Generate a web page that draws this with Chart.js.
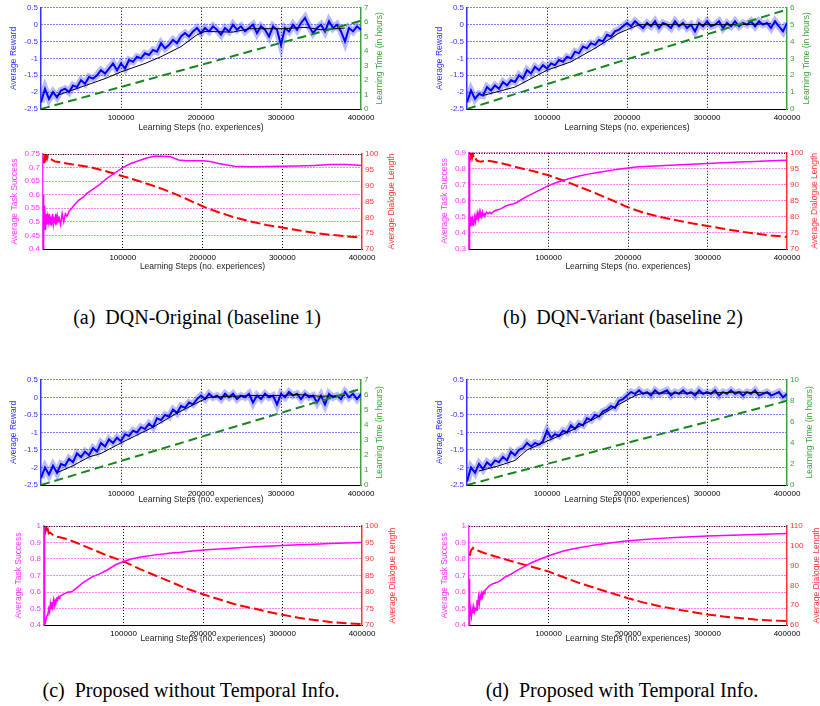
<!DOCTYPE html>
<html>
<head>
<meta charset="utf-8">
<script src="https://cdn.jsdelivr.net/npm/chart.js@4.4.0/dist/chart.umd.min.js"></script>
<style>
  body { margin: 0; width: 820px; height: 706px; background: #fff; position: relative; overflow: hidden; }
  canvas { position: absolute; }
  .cap { position: absolute; transform: translate(-50%, -50%); white-space: pre;
         font-family: "Liberation Serif", "Times New Roman", serif; font-size: 20px; color: #000; }
</style>
</head>
<body>
<div class="cap" style="left:197px; top:317px">(a)  DQN-Original (baseline 1)</div>
<div class="cap" style="left:623px; top:317px">(b)  DQN-Variant (baseline 2)</div>
<div class="cap" style="left:191px; top:690px">(c)  Proposed without Temporal Info.</div>
<div class="cap" style="left:622px; top:690px">(d)  Proposed with Temporal Info.</div>
<script>
// reward is sampled every 5000 learning steps, 0..400000
const REWARD_STEP = 5000;

const rewardA = [-2.3, -1.9, -2.2, -2.0, -2.15, -1.95, -1.9, -2.0, -1.8, -1.85,
  -1.65, -1.75, -1.55, -1.6, -1.5, -1.35, -1.45, -1.3, -1.15, -1.35,
  -1.15, -1.3, -1.05, -1.1, -0.95, -1.0, -0.85, -0.9, -0.75, -0.8,
  -0.55, -0.7, -0.6, -0.45, -0.55, -0.35, -0.25, -0.35, -0.2, -0.1,
  -0.25, -0.1, -0.2, -0.05, -0.15, -0.3, -0.1, -0.2, 0.0, -0.15,
  -0.05, -0.2, -0.1, 0.0, -0.25, -0.05, -0.15, -0.35, -0.05, -0.15,
  -0.6, -0.1, -0.2, 0.0, -0.15, 0.05, 0.2, -0.05, -0.25, -0.1,
  0.0, -0.2, 0.1, -0.1, 0.0, -0.2, -0.5, -0.1, -0.2, -0.05,
  -0.15];
const rewardB = [-2.3, -1.95, -2.2, -2.05, -2.1, -1.85, -1.95, -1.8, -1.9, -1.7,
  -1.8, -1.65, -1.7, -1.5, -1.6, -1.35, -1.45, -1.25, -1.35, -1.2,
  -1.3, -1.15, -1.2, -1.05, -1.1, -0.95, -1.0, -0.8, -0.85, -0.65,
  -0.7, -0.55, -0.6, -0.45, -0.5, -0.3, -0.35, -0.2, -0.15, -0.05,
  0.05, -0.05, 0.1, 0.0, -0.1, 0.05, -0.05, 0.1, -0.1, 0.05,
  0.0, -0.1, 0.1, -0.05, 0.05, -0.1, 0.0, -0.2, 0.05, -0.05,
  0.1, -0.05, 0.0, 0.1, -0.1, 0.05, -0.05, 0.1, -0.05, 0.05,
  0.0, 0.1, -0.05, 0.1, 0.0, 0.05, -0.1, 0.1, -0.05, -0.2,
  0.05];
const rewardC = [-2.3, -2.0, -2.2, -1.95, -2.15, -1.9, -1.95, -1.75, -1.85, -1.6,
  -1.7, -1.55, -1.65, -1.45, -1.55, -1.3, -1.4, -1.2, -1.3, -1.15,
  -1.25, -1.05, -1.1, -0.95, -1.0, -0.85, -0.9, -0.75, -0.85, -0.6,
  -0.65, -0.5, -0.55, -0.35, -0.45, -0.25, -0.3, -0.15, -0.2, -0.05,
  0.05, -0.05, 0.1, 0.0, 0.05, -0.05, 0.1, 0.0, 0.1, -0.05,
  0.05, 0.0, 0.1, -0.15, 0.05, -0.05, 0.1, 0.0, 0.05, -0.2,
  0.1, 0.0, 0.15, 0.05, 0.1, -0.05, 0.1, 0.0, 0.05, -0.15,
  0.05, -0.2, 0.1, 0.0, 0.05, -0.05, 0.15, 0.0, 0.1, -0.05,
  0.1];
const rewardD = [-2.4, -2.0, -2.15, -1.9, -2.05, -1.85, -1.95, -1.8, -1.85, -1.7,
  -1.8, -1.55, -1.65, -1.5, -1.45, -1.3, -1.4, -1.3, -1.35, -1.25,
  -0.95, -1.15, -1.05, -1.1, -0.95, -1.0, -0.8, -0.9, -0.75, -0.8,
  -0.6, -0.65, -0.5, -0.55, -0.4, -0.35, -0.25, -0.3, -0.1, -0.05,
  0.05, 0.15, 0.1, 0.2, 0.1, 0.15, 0.05, 0.2, 0.1, 0.15,
  0.2, 0.05, 0.15, 0.1, 0.2, 0.1, 0.15, 0.05, 0.2, 0.1,
  0.15, 0.1, 0.2, 0.05, 0.15, 0.1, 0.2, 0.1, 0.15, 0.05,
  0.15, 0.1, 0.2, 0.05, 0.1, 0.15, 0.05, 0.1, 0.15, 0.0,
  0.1];

// smoothed (moving average) reward, black line
const smoothStepsA = [20000, 50000, 80000, 100000, 130000, 150000, 175000, 195000, 205000, 240000, 260000, 300000, 330000, 350000, 380000];
const smoothA = [-2.1, -1.85, -1.6, -1.4, -1.15, -0.95, -0.65, -0.3, -0.2, -0.22, -0.12, -0.12, -0.08, -0.15, -0.1];
const smoothStepsB = [20000, 60000, 80000, 100000, 130000, 160000, 190000, 215000, 250000, 300000, 340000, 380000];
const smoothB = [-2.1, -1.85, -1.6, -1.35, -1.1, -0.7, -0.25, 0.0, 0.0, 0.0, 0.0, 0.03];
const smoothStepsC = [20000, 40000, 60000, 75000, 100000, 140000, 170000, 200000, 210000, 260000, 300000, 320000, 350000, 380000];
const smoothC = [-2.15, -1.95, -1.7, -1.6, -1.3, -0.85, -0.45, -0.1, 0.0, 0.05, 0.05, 0.08, 0.03, 0.05];
const smoothStepsD = [15000, 40000, 60000, 75000, 100000, 130000, 160000, 190000, 210000, 220000, 300000, 340000, 380000];
const smoothD = [-2.1, -1.95, -1.8, -1.5, -1.25, -0.95, -0.6, -0.2, 0.05, 0.12, 0.12, 0.15, 0.12];

// learning time in hours (green dashed)
const timeSteps = [0, 400000];
const timeA = [0, 6.1];
const timeB = [0, 5.9];
const timeC = [0, 6.4];
const timeD = [0, 8.0];

const successSteps = [0, 500, 1000, 2000, 3000, 4000, 5000, 6000, 7000, 8000,
  9000, 10000, 11000, 12000, 13000, 14000, 15000, 16000, 17000, 18000,
  19000, 20000, 22000, 24000, 26000, 28000, 30000, 33000, 36000, 40000,
  45000, 50000, 55000, 60000, 70000, 80000, 90000, 100000, 110000, 120000,
  130000, 140000, 150000, 160000, 170000, 180000, 190000, 200000, 210000, 220000,
  240000, 260000, 280000, 300000, 320000, 340000, 360000, 380000, 400000];
const successA = [0.40, 0.60, 0.45, 0.56, 0.47, 0.53, 0.49, 0.52, 0.50, 0.53,
  0.49, 0.52, 0.50, 0.53, 0.49, 0.51, 0.50, 0.53, 0.49, 0.52,
  0.50, 0.52, 0.49, 0.53, 0.50, 0.53, 0.52, 0.54, 0.55, 0.565,
  0.58, 0.59, 0.605, 0.615, 0.635, 0.66, 0.68, 0.70, 0.715, 0.725,
  0.735, 0.742, 0.742, 0.74, 0.728, 0.725, 0.725, 0.725, 0.722, 0.715,
  0.705, 0.703, 0.704, 0.705, 0.706, 0.708, 0.711, 0.711, 0.708];
const successB = [0.30, 0.88, 0.50, 0.44, 0.50, 0.45, 0.48, 0.46, 0.50, 0.47,
  0.51, 0.48, 0.52, 0.49, 0.53, 0.50, 0.52, 0.50, 0.53, 0.51,
  0.52, 0.51, 0.53, 0.52, 0.53, 0.52, 0.53, 0.54, 0.545, 0.55,
  0.565, 0.575, 0.58, 0.59, 0.62, 0.645, 0.67, 0.695, 0.715, 0.73,
  0.745, 0.757, 0.767, 0.776, 0.784, 0.792, 0.799, 0.805, 0.812, 0.815,
  0.82, 0.824, 0.829, 0.834, 0.838, 0.842, 0.846, 0.85, 0.853];
const successC = [1.0, 0.7, 0.40, 0.42, 0.44, 0.46, 0.47, 0.50, 0.48, 0.53,
  0.50, 0.54, 0.51, 0.55, 0.52, 0.55, 0.54, 0.56, 0.55, 0.57,
  0.56, 0.575, 0.58, 0.585, 0.59, 0.595, 0.60, 0.60, 0.605, 0.62,
  0.64, 0.66, 0.675, 0.69, 0.71, 0.735, 0.765, 0.785, 0.80, 0.81,
  0.818, 0.825, 0.83, 0.836, 0.84, 0.845, 0.85, 0.855, 0.858, 0.861,
  0.867, 0.872, 0.877, 0.882, 0.886, 0.89, 0.894, 0.897, 0.90];
const successD = [0.40, 0.68, 0.55, 0.48, 0.45, 0.50, 0.47, 0.51, 0.48, 0.50,
  0.49, 0.55, 0.52, 0.57, 0.53, 0.58, 0.55, 0.59, 0.57, 0.60,
  0.59, 0.61, 0.62, 0.63, 0.64, 0.645, 0.65, 0.655, 0.66, 0.67,
  0.69, 0.70, 0.715, 0.73, 0.755, 0.78, 0.80, 0.82, 0.835, 0.85,
  0.86, 0.87, 0.878, 0.886, 0.893, 0.899, 0.905, 0.91, 0.914, 0.918,
  0.925, 0.93, 0.935, 0.94, 0.943, 0.946, 0.949, 0.952, 0.955];

const lengthSteps = [1000, 2000, 3000, 4000, 5000, 6000, 8000, 10000, 15000, 20000,
  30000, 40000, 60000, 80000, 100000, 120000, 140000, 160000, 180000, 200000,
  220000, 240000, 260000, 280000, 300000, 320000, 340000, 360000, 380000, 400000];
const lengthA = [97, 100, 98.5, 99.5, 98.5, 99.3, 98.6, 98.4, 97.6, 97.5,
  97, 96.6, 95.8, 94.5, 93, 91.5, 89.8, 88, 85.8, 83.5,
  81.6, 80, 78.7, 77.6, 76.8, 75.9, 75.1, 74.5, 74, 73.6];
const lengthB = [101, 99, 100.5, 98.5, 99.5, 98, 98.3, 97.5, 97.2, 97.6,
  97.3, 96.8, 95.5, 94.3, 93, 91.2, 89.3, 87.3, 85.2, 83,
  81.3, 80, 79, 78, 77.2, 76.3, 75.5, 74.8, 74.2, 73.8];
const lengthC = [100, 98.5, 99.5, 98.2, 98.8, 97.8, 98, 97.5, 96.8, 96.6,
  96, 95, 93, 91, 89.3, 87, 85, 83, 81, 79.3,
  77.8, 76.3, 75.2, 74.1, 73.1, 72.2, 71.5, 70.9, 70.5, 70.3];
const lengthD = [95, 97, 98, 98.5, 99, 98.5, 98.3, 97.8, 97, 96.2,
  95, 93.8, 91.5, 89.3, 87, 84, 81, 78.5, 76, 73.5,
  71.3, 69.5, 68, 66.6, 65.3, 64.3, 63.5, 62.8, 62.3, 62];

// axis ranges: [min, max, step]
const rewardRange = [-2.5, 0.5, 0.5];
const timeRangeA = [0, 7, 1], timeRangeB = [0, 6, 1], timeRangeC = [0, 7, 1], timeRangeD = [0, 10, 2];
const successRangeA = [0.4, 0.75, 0.05], successRangeB = [0.3, 0.9, 0.1], successRangeC = [0.4, 1, 0.1], successRangeD = [0.4, 1, 0.1];
const lengthRangeA = [70, 100, 5], lengthRangeB = [70, 100, 5], lengthRangeC = [70, 100, 5], lengthRangeD = [60, 110, 10];

const FONT = '"Liberation Sans", Arial, sans-serif';
Chart.defaults.font.family = FONT;

const pts = (xs, ys) => ys.map((y, i) => ({ x: xs[i], y }));
const rewardPts = ys => ys.map((y, i) => ({ x: i * REWARD_STEP, y }));

// rotated y titles on both sides (both read bottom to top), plus a dotted top frame
const sideTitles = {
  id: 'sideTitles',
  afterDraw(chart, args, o) {
    if (!o.left) return;
    const { ctx, chartArea } = chart;
    const cy = (chartArea.top + chartArea.bottom) / 2;
    ctx.save();
    if (o.topFrame) {
      ctx.strokeStyle = '#000';
      ctx.lineWidth = 1.2;
      ctx.setLineDash([1, 1.5]);
      ctx.beginPath();
      ctx.moveTo(chartArea.left, chartArea.top + 0.5);
      ctx.lineTo(chartArea.right, chartArea.top + 0.5);
      ctx.stroke();
      ctx.setLineDash([]);
    }
    ctx.font = '8.5px ' + FONT;
    ctx.textAlign = 'center';
    ctx.textBaseline = 'middle';
    [o.left, o.right].forEach(t => {
      ctx.save();
      ctx.translate(t.x, cy);
      ctx.rotate(-Math.PI / 2);
      ctx.fillStyle = t.color;
      ctx.fillText(t.text, 0, 0);
      ctx.restore();
    });
    ctx.restore();
  }
};
Chart.register(sideTitles);

const fmt = v => String(+v.toFixed(2));

function makeChart(box, plot, left, right, datasets, topFrame) {
  const cv = document.createElement('canvas');
  cv.width = box.w;
  cv.height = box.h;
  cv.style.left = box.x + 'px';
  cv.style.top = box.y + 'px';
  document.body.appendChild(cv);
  return new Chart(cv, {
    type: 'line',
    data: { datasets },
    options: {
      responsive: false,
      animation: false,
      layout: { padding: { top: plot.t - box.y } },
      elements: { point: { radius: 0 }, line: { tension: 0 } },
      plugins: {
        legend: { display: false },
        tooltip: { enabled: false },
        sideTitles: {
          topFrame,
          left: { text: left.title, color: left.color, x: left.tx },
          right: { text: right.title, color: right.color, x: right.tx }
        }
      },
      scales: {
        x: {
          type: 'linear', min: 0, max: 400000,
          afterFit: s => { s.height = box.y + box.h - plot.b; },
          ticks: { stepSize: 100000, color: '#000', font: { size: 8 }, padding: 4, maxRotation: 0,
                   callback: v => v === 0 ? '' : String(v) },
          grid: { color: c => (c.tick && c.tick.value > 0 && c.tick.value < 400000) ? '#000' : 'rgba(0,0,0,0)', drawTicks: false },
          border: { color: '#000', width: 1, dash: [1, 2] },
          title: { display: true, text: 'Learning Steps (no. experiences)', color: '#222',
                   font: { size: 8.5 }, padding: { top: 0, bottom: 3 } }
        },
        y: {
          position: 'left', min: left.range[0], max: left.range[1],
          afterFit: s => { s.width = plot.l - box.x; },
          ticks: { stepSize: left.range[2], color: left.color, font: { size: 8 }, padding: 3, callback: fmt },
          grid: { color: left.grid, drawTicks: false },
          border: { color: left.color, width: 1.5, dash: [1, 2] }
        },
        y2: {
          position: 'right', min: right.range[0], max: right.range[1],
          afterFit: s => { s.width = box.x + box.w - plot.r; },
          ticks: { stepSize: right.range[2], color: right.color, font: { size: 8 }, padding: 3, callback: fmt },
          grid: { drawOnChartArea: false, drawTicks: false },
          border: { color: right.color, width: 1.5 }
        }
      }
    }
  });
}

function rewardChart(box, plot, tx, reward, smoothSteps, smooth, time, timeRange) {
  makeChart(box, plot,
    { title: 'Average Reward', color: '#3333ff', grid: '#0000ff', range: rewardRange, tx: tx[0] },
    { title: 'Learning Time (in hours)', color: '#3aa63a', range: timeRange, tx: tx[1] },
    [
      { data: pts(timeSteps, time), yAxisID: 'y2', borderColor: '#17871c', borderWidth: 2, borderDash: [9, 5] },
      { data: pts(smoothSteps, smooth), yAxisID: 'y', borderColor: '#000', borderWidth: 1 },
      { data: rewardPts(reward), yAxisID: 'y', borderColor: '#0000ff', borderWidth: 2 },
      { data: rewardPts(reward), yAxisID: 'y', borderColor: 'rgba(60,60,255,0.35)', borderWidth: 7 }
    ], false);
}

function successChart(box, plot, tx, success, successRange, length, lengthRange) {
  makeChart(box, plot,
    { title: 'Average Task Success', color: '#ff33ff', grid: '#ff00ff', range: successRange, tx: tx[0] },
    { title: 'Average Dialogue Length', color: '#ff3333', range: lengthRange, tx: tx[1] },
    [
      { data: pts(successSteps, success), yAxisID: 'y', borderColor: '#ff00ff', borderWidth: 1.5 },
      { data: pts(lengthSteps, length), yAxisID: 'y2', borderColor: '#ff0000', borderWidth: 2, borderDash: [10, 4] }
    ], true);
}

rewardChart({ x: 0, y: 0, w: 410, h: 136 }, { l: 41, r: 361, t: 5, b: 109 }, [14, 380],
  rewardA, smoothStepsA, smoothA, timeA, timeRangeA);
rewardChart({ x: 410, y: 0, w: 410, h: 136 }, { l: 467, r: 787, t: 5, b: 109 }, [30, 397],
  rewardB, smoothStepsB, smoothB, timeB, timeRangeB);
rewardChart({ x: 0, y: 372, w: 410, h: 136 }, { l: 41, r: 361, t: 379, b: 485 }, [14, 380],
  rewardC, smoothStepsC, smoothC, timeC, timeRangeC);
rewardChart({ x: 410, y: 372, w: 410, h: 136 }, { l: 467, r: 787, t: 379, b: 485 }, [30, 400],
  rewardD, smoothStepsD, smoothD, timeD, timeRangeD);

successChart({ x: 0, y: 145, w: 410, h: 130 }, { l: 43, r: 362, t: 154, b: 249 }, [15, 392],
  successA, successRangeA, lengthA, lengthRangeA);
successChart({ x: 410, y: 145, w: 410, h: 130 }, { l: 469, r: 787, t: 152, b: 249 }, [35, 405],
  successB, successRangeB, lengthB, lengthRangeB);
successChart({ x: 0, y: 517, w: 410, h: 130 }, { l: 44, r: 362, t: 526, b: 625 }, [19, 393],
  successC, successRangeC, lengthC, lengthRangeC);
successChart({ x: 410, y: 517, w: 410, h: 130 }, { l: 469, r: 787, t: 526, b: 625 }, [35, 407],
  successD, successRangeD, lengthD, lengthRangeD);
</script>
</body>
</html>
